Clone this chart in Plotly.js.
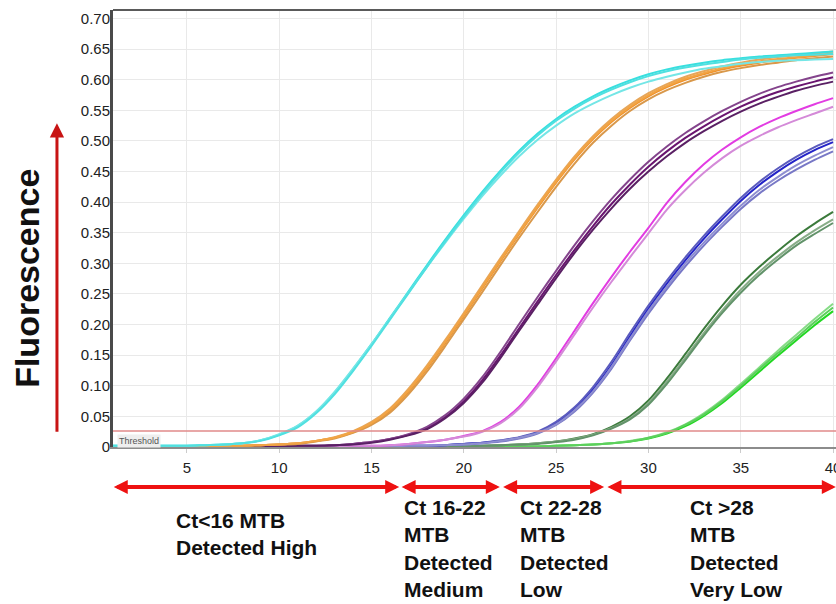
<!DOCTYPE html>
<html>
<head>
<meta charset="utf-8">
<script src="https://cdn.plot.ly/plotly-3.0.1.min.js"></script>
<style>
  html, body { margin: 0; padding: 0; background: #ffffff; }
  #chart { width: 836px; height: 604px; }
</style>
</head>
<body>
<div id="chart"></div>
<script>
// Real-time PCR amplification curves (fluorescence per cycle)
const cycles = [1,2,3,4,5,6,7,8,9,10,11,12,13,14,15,16,17,18,19,20,
                21,22,23,24,25,26,27,28,29,30,31,32,33,34,35,36,37,38,39,40];

// Ct ~10-11
const cyanRuns = [
  [0.002,0.002,0.002,0.002,0.002,0.003,0.004,0.006,
   0.011,0.020,0.034,0.057,0.089,0.127,0.168,0.211,0.254,0.297,0.339,0.379,0.417,0.452,0.484,0.512,0.536,0.556,0.573,0.587,
   0.599,0.609,0.617,0.623,0.628,0.632,0.635,0.638,0.640,0.642,0.644,0.646],
  [0.002,0.002,0.002,0.002,0.002,0.003,0.004,0.006,
   0.011,0.021,0.035,0.058,0.090,0.128,0.168,0.210,0.252,0.294,0.334,0.373,0.410,0.444,0.475,0.502,0.525,0.545,0.561,0.575,
   0.587,0.597,0.605,0.612,0.618,0.622,0.626,0.629,0.631,0.632,0.633,0.634],
  [0.002,0.002,0.002,0.002,0.002,0.003,0.004,0.006,
   0.010,0.019,0.032,0.055,0.086,0.124,0.165,0.208,0.251,0.294,0.336,0.376,0.414,0.449,0.481,0.509,0.533,0.553,0.570,0.584,
   0.596,0.606,0.614,0.620,0.625,0.629,0.633,0.636,0.638,0.640,0.641,0.642]
];
// Ct ~14
const orangeRuns = [
  [0.001,0.001,0.001,0.001,0.001,0.001,0.002,0.002,0.003,0.004,0.006,0.010,
   0.015,0.024,0.038,0.059,0.090,0.128,0.170,0.214,0.259,0.304,0.348,0.391,0.432,0.470,0.503,0.531,0.554,0.573,0.588,0.600,
   0.609,0.617,0.623,0.628,0.632,0.636,0.639,0.642],
  [0.001,0.001,0.001,0.001,0.001,0.001,0.002,0.002,0.003,0.004,0.006,0.010,
   0.016,0.026,0.041,0.063,0.095,0.133,0.175,0.219,0.264,0.309,0.353,0.396,0.437,0.475,0.508,0.536,0.559,0.578,0.593,0.605,
   0.614,0.622,0.628,0.633,0.637,0.640,0.643,0.646],
  [0.001,0.001,0.001,0.001,0.001,0.001,0.002,0.002,0.003,0.004,0.005,0.009,
   0.014,0.023,0.036,0.056,0.086,0.123,0.165,0.209,0.253,0.298,0.342,0.384,0.425,0.463,0.497,0.525,0.549,0.568,0.583,0.595,
   0.605,0.613,0.619,0.624,0.628,0.632,0.635,0.638],
  [0.001,0.001,0.001,0.001,0.001,0.001,0.002,0.002,0.003,0.004,0.006,0.010,
   0.015,0.025,0.039,0.061,0.092,0.130,0.172,0.216,0.261,0.306,0.350,0.393,0.434,0.472,0.505,0.533,0.556,0.575,0.590,0.602,
   0.611,0.619,0.625,0.630,0.634,0.637,0.640,0.643]
];
// Ct ~18
const purpleRuns = [
  [0.001,0.001,0.001,0.001,0.001,0.001,0.001,0.001,0.001,0.001,0.002,0.002,
   0.003,0.005,0.008,0.013,0.020,0.031,0.049,0.075,0.109,0.150,0.194,0.238,0.281,0.322,0.361,0.397,0.429,0.458,0.483,0.505,
   0.524,0.541,0.556,0.569,0.580,0.589,0.597,0.604],
  [0.001,0.001,0.001,0.001,0.001,0.001,0.001,0.001,0.001,0.001,0.002,0.002,
   0.003,0.005,0.008,0.013,0.021,0.033,0.052,0.079,0.114,0.156,0.201,0.245,0.288,0.330,0.369,0.405,0.437,0.466,0.491,0.513,
   0.532,0.549,0.564,0.577,0.588,0.597,0.605,0.612],
  [0.001,0.001,0.001,0.001,0.001,0.001,0.001,0.001,0.001,0.001,0.002,0.002,
   0.003,0.004,0.007,0.012,0.019,0.029,0.047,0.072,0.105,0.146,0.190,0.233,0.276,0.317,0.355,0.390,0.422,0.450,0.475,0.497,
   0.516,0.533,0.548,0.561,0.572,0.582,0.590,0.597]
];
// Ct ~21
const magentaRuns = [
  [0.001,0.001,0.001,0.001,0.001,0.001,0.001,0.001,0.001,0.001,0.001,0.001,0.001,
   0.002,0.002,0.003,0.005,0.008,0.012,0.018,0.026,0.041,0.066,0.102,0.145,0.190,0.235,0.278,0.319,0.358,0.399,0.433,0.462,
   0.486,0.506,0.523,0.537,0.549,0.560,0.570],
  [0.001,0.001,0.001,0.001,0.001,0.001,0.001,0.001,0.001,0.001,0.001,0.001,0.001,
   0.002,0.002,0.003,0.005,0.008,0.012,0.017,0.025,0.039,0.063,0.098,0.140,0.184,0.228,0.270,0.310,0.349,0.388,0.420,0.448,
   0.472,0.492,0.508,0.522,0.534,0.545,0.556]
];
// Ct ~24-25
const blueRuns = [
  [0.001,0.001,0.001,0.001,0.001,0.001,0.001,0.001,0.001,0.001,0.001,0.001,0.001,0.001,0.001,0.001,
   0.002,0.002,0.003,0.005,0.007,0.010,0.015,0.024,0.039,0.062,0.094,0.134,0.181,0.226,0.267,0.305,0.340,0.372,0.402,0.428,
   0.450,0.469,0.485,0.498],
  [0.001,0.001,0.001,0.001,0.001,0.001,0.001,0.001,0.001,0.001,0.001,0.001,0.001,0.001,0.001,0.001,
   0.002,0.002,0.003,0.004,0.006,0.009,0.014,0.022,0.036,0.058,0.089,0.128,0.174,0.218,0.258,0.295,0.329,0.360,0.389,0.414,
   0.435,0.453,0.469,0.483],
  [0.001,0.001,0.001,0.001,0.001,0.001,0.001,0.001,0.001,0.001,0.001,0.001,0.001,0.001,0.001,0.001,
   0.002,0.002,0.003,0.005,0.007,0.011,0.016,0.025,0.041,0.065,0.098,0.139,0.186,0.231,0.272,0.310,0.345,0.377,0.407,0.433,
   0.455,0.474,0.490,0.503],
  [0.001,0.001,0.001,0.001,0.001,0.001,0.001,0.001,0.001,0.001,0.001,0.001,0.001,0.001,0.001,0.001,
   0.002,0.002,0.003,0.004,0.006,0.010,0.015,0.023,0.037,0.060,0.091,0.131,0.177,0.222,0.262,0.300,0.334,0.365,0.394,0.420,
   0.441,0.460,0.476,0.490]
];
// Ct ~27-28
const darkGreenRuns = [
  [0.001,0.001,0.001,0.001,0.001,0.001,0.001,0.001,0.001,0.001,0.001,0.001,0.001,0.001,0.001,0.001,0.001,0.001,0.001,0.001,
   0.002,0.003,0.004,0.006,0.009,0.014,0.021,0.033,0.050,0.076,0.112,0.152,0.193,0.231,0.265,0.294,0.320,0.344,0.365,0.384],
  [0.001,0.001,0.001,0.001,0.001,0.001,0.001,0.001,0.001,0.001,0.001,0.001,0.001,0.001,0.001,0.001,0.001,0.001,0.001,0.001,
   0.002,0.003,0.004,0.006,0.009,0.013,0.020,0.031,0.047,0.072,0.107,0.146,0.186,0.223,0.257,0.286,0.311,0.334,0.354,0.372],
  [0.001,0.001,0.001,0.001,0.001,0.001,0.001,0.001,0.001,0.001,0.001,0.001,0.001,0.001,0.001,0.001,0.001,0.001,0.001,0.001,
   0.002,0.003,0.004,0.005,0.008,0.012,0.019,0.030,0.045,0.069,0.103,0.142,0.182,0.219,0.252,0.281,0.306,0.329,0.348,0.366]
];
// Ct ~31
const greenRuns = [
  [0.001,0.001,0.001,0.001,0.001,0.001,0.001,0.001,0.001,0.001,0.001,0.001,0.001,0.001,0.001,0.001,0.001,0.001,0.001,0.001,
   0.001,0.001,0.001,0.001,0.002,0.003,0.004,0.006,0.009,0.014,0.022,0.034,0.051,0.072,0.097,0.123,0.149,0.174,0.199,0.222],
  [0.001,0.001,0.001,0.001,0.001,0.001,0.001,0.001,0.001,0.001,0.001,0.001,0.001,0.001,0.001,0.001,0.001,0.001,0.001,0.001,
   0.001,0.001,0.001,0.001,0.002,0.003,0.004,0.006,0.010,0.015,0.024,0.037,0.055,0.077,0.103,0.130,0.157,0.183,0.209,0.234],
  [0.001,0.001,0.001,0.001,0.001,0.001,0.001,0.001,0.001,0.001,0.001,0.001,0.001,0.001,0.001,0.001,0.001,0.001,0.001,0.001,
   0.001,0.001,0.001,0.001,0.002,0.003,0.004,0.006,0.009,0.015,0.023,0.036,0.053,0.075,0.100,0.127,0.153,0.178,0.204,0.228]
];

const thresholdValue = 0.026;

const yTickVals = [0,0.05,0.10,0.15,0.20,0.25,0.30,0.35,0.40,0.45,0.50,0.55,0.60,0.65,0.70];
const yTickText = ['0','0.05','0.10','0.15','0.20','0.25','0.30','0.35','0.40','0.45','0.50','0.55','0.60','0.65','0.70'];
const xTickVals = [5,10,15,20,25,30,35,40];

// Ct bands shown under the axis
const bandStarts = [0.96, 16.55, 22.05, 27.7];
const bandEnds   = [16.5, 21.95, 27.6, 40.15];
const bandLabels = [
  'Ct<16 MTB<br>Detected High',
  'Ct 16-22<br>MTB<br>Detected<br>Medium',
  'Ct 22-28<br>MTB<br>Detected<br>Low',
  'Ct >28<br>MTB<br>Detected<br>Very Low'
];
const bandLabelX = [4.29, 16.64, 22.94, 32.14];
const bandLabelTop = [-0.137, -0.1076, -0.1076, -0.1076];

const groups = [
  { runs: greenRuns,     colors: ['#22d822', '#86dc86', '#5ccf5c'] },
  { runs: darkGreenRuns, colors: ['#3b7a3b', '#88ad88', '#62936a'] },
  { runs: blueRuns,      colors: ['#2323c8', '#7878c6', '#5a5abd', '#8e8ed0'] },
  { runs: magentaRuns,   colors: ['#e23ce2', '#d48ad8'] },
  { runs: purpleRuns,    colors: ['#6a1470', '#84448c', '#5a2064'] },
  { runs: orangeRuns,    colors: ['#f0922a', '#e6a65a', '#d9984a', '#f2a444'] },
  { runs: cyanRuns,      colors: ['#38dfdf', '#74e6e6', '#50e0e0'] }
];

const traces = [];
groups.forEach(g => {
  g.runs.forEach((vals, i) => {
    traces.push({
      x: cycles,
      y: vals,
      type: 'scatter',
      mode: 'lines',
      line: { color: g.colors[i % g.colors.length], width: 2, shape: 'spline', smoothing: 0.8 },
      hoverinfo: 'skip',
      showlegend: false
    });
  });
});

const fontFamily = 'Arial, "Liberation Sans", sans-serif';
const tickFont = { family: fontFamily, size: 15, color: '#222222' };
const boldFont = { family: fontFamily, size: 21, color: '#111111' };

const annotations = [
  // axis caption with upward arrow
  {
    xref: 'paper', yref: 'paper', x: -0.119, y: 0.387,
    xanchor: 'center', yanchor: 'middle',
    text: '<b>Fluorescence</b>', textangle: -90, showarrow: false,
    font: { family: fontFamily, size: 34, color: '#111111' }
  },
  {
    xref: 'paper', yref: 'paper', x: -0.0775, y: 0.741,
    axref: 'pixel', ayref: 'pixel', ax: 0, ay: 310,
    text: '', showarrow: true, arrowhead: 2, arrowsize: 0.95, arrowwidth: 3, arrowcolor: '#c81414'
  },
  // threshold tag
  {
    xref: 'paper', yref: 'y', x: 0.005, y: thresholdValue - 0.004,
    xanchor: 'left', yanchor: 'top', text: 'Threshold', showarrow: false,
    font: { family: fontFamily, size: 9, color: '#555555' },
    bgcolor: '#eeeeee', borderpad: 1
  }
];

bandStarts.forEach((s, i) => {
  annotations.push({
    xref: 'x', yref: 'paper', x: bandEnds[i], y: -0.0915,
    axref: 'x', ayref: 'pixel', ax: s, ay: 0,
    text: '', showarrow: true, arrowside: 'end+start',
    arrowhead: 2, startarrowhead: 2, arrowsize: 0.7, startarrowsize: 0.7,
    arrowwidth: 4, arrowcolor: '#ee1111'
  });
  annotations.push({
    xref: 'x', yref: 'paper', x: bandLabelX[i], y: bandLabelTop[i],
    xanchor: 'left', yanchor: 'top', align: 'left',
    text: '<b>' + bandLabels[i] + '</b>', showarrow: false, font: boldFont
  });
});

const layout = {
  width: 836,
  height: 604,
  margin: { l: 113, r: 0, t: 10, b: 157 },
  paper_bgcolor: '#ffffff',
  plot_bgcolor: '#ffffff',
  showlegend: false,
  xaxis: {
    range: [1, 40.16],
    tickvals: xTickVals,
    showgrid: true, gridcolor: '#e9e9e9', gridwidth: 1,
    zeroline: false,
    showline: true, linecolor: '#8c8c8c', linewidth: 2,
    ticks: 'outside', ticklen: 4, tickcolor: '#cccccc',
    ticklabelstandoff: 2,
    ticklabeloverflow: 'allow',
    tickfont: tickFont
  },
  yaxis: {
    range: [0, 0.714],
    tickvals: yTickVals,
    ticktext: yTickText,
    showgrid: true, gridcolor: '#e9e9e9', gridwidth: 1,
    zeroline: false,
    showline: true, linecolor: '#4a4a4a', linewidth: 3,
    ticks: '', ticklabelstandoff: -3,
    tickfont: tickFont
  },
  shapes: [
    { type: 'line', xref: 'paper', yref: 'y', x0: 0, x1: 1, y0: thresholdValue, y1: thresholdValue,
      line: { color: '#e08a8a', width: 1.5 } },
    { type: 'line', xref: 'paper', yref: 'paper', x0: 0, x1: 1, y0: 1, y1: 1,
      line: { color: '#5a5a5a', width: 2 } }
  ],
  annotations: annotations
};

Plotly.newPlot('chart', traces, layout, { displayModeBar: false, staticPlot: true });
</script>
</body>
</html>
